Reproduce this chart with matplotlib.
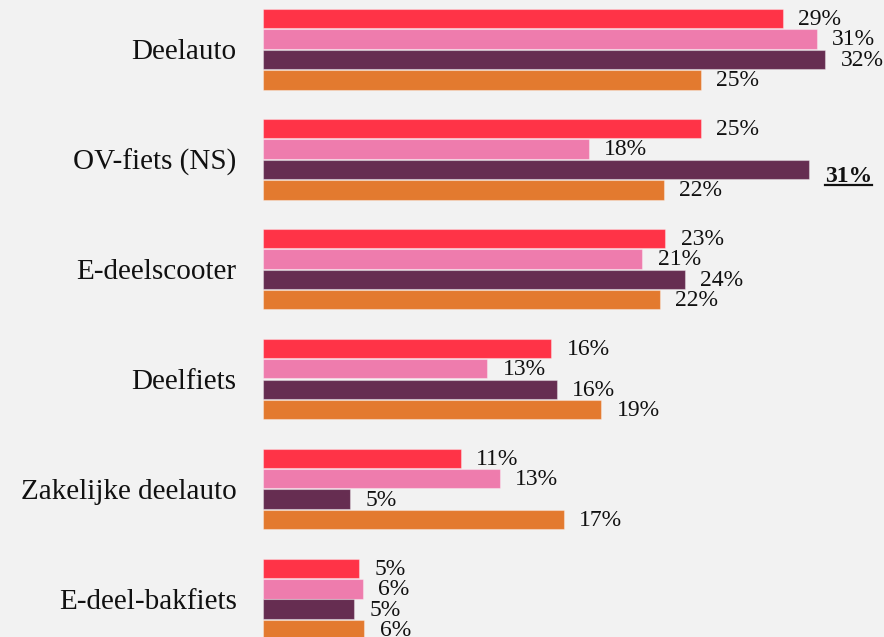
import matplotlib
matplotlib.use("Agg")
import matplotlib.pyplot as plt
from matplotlib.lines import Line2D
import numpy as np

categories = ["Deelauto", "OV-fiets (NS)", "E-deelscooter", "Deelfiets",
              "Zakelijke deelauto", "E-deel-bakfiets"]
series_1 = [29.2, 24.6, 22.6, 16.2, 11.1, 5.4]
series_2 = [31.1, 18.3, 21.3, 12.6, 13.3, 5.6]
series_3 = [31.6, 30.7, 23.7, 16.5, 4.9, 5.1]
series_4 = [24.6, 22.5, 22.3, 19.0, 16.9, 5.7]
highlight = (1, 2)  # (category index, series index) shown bold + underlined

series = [series_1, series_2, series_3, series_4]
colors = ["#FF3347", "#EE7CAD", "#662D51", "#E37A2F"]
bg = "#F2F2F2"

W, H = 884, 637
fig = plt.figure(figsize=(W / 100, H / 100), dpi=100, facecolor=bg)
x0_px = 263
px_per_pct = 17.8
ax = fig.add_axes([x0_px / W, 0, (W - x0_px) / W, 1])
ax.set_facecolor(bg)

group_px = 110.0
pitch = 20.5 / group_px
bar_h = 19.5 / group_px
ax.set_xlim(0, (W - x0_px) / px_per_pct)
ax.set_ylim(588 / group_px, -49 / group_px)

font = "Liberation Serif"
off = 15.5 / px_per_pct
y_idx = np.arange(len(categories))
for j, (vals, col) in enumerate(zip(series, colors)):
    ys = y_idx + (j - 1.5) * pitch
    ax.barh(ys, vals, height=bar_h, color=col, edgecolor=(1, 1, 1, 0.35),
            linewidth=0.8)
    for i, (y, v) in enumerate(zip(ys, vals)):
        label = f"{round(v)}%"
        if (i, j) == highlight:
            t = ax.text(v + off, y + 7 / group_px, label, fontsize=17,
                        family=font, fontweight="bold", va="center",
                        ha="left", color="#111111")
            t._underline = True
        else:
            ax.text(v + off, y + 1 / group_px, label, fontsize=17,
                    family=font, va="center", ha="left", color="#111111")

ax.set_yticks(y_idx)
ax.set_yticklabels(categories, fontsize=21, family=font, color="#111111")
ax.tick_params(axis="y", length=0, pad=19)
ax.set_xticks([])
for s in ax.spines.values():
    s.set_visible(False)

fig.canvas.draw()
renderer = fig.canvas.get_renderer()
for t in ax.texts:
    if getattr(t, "_underline", False):
        bb = t.get_window_extent(renderer)
        yline = bb.y0 + 1.5
        fig.add_artist(Line2D([bb.x0 / W, bb.x1 / W], [yline / H, yline / H],
                              transform=fig.transFigure, color="#111111",
                              linewidth=1.6))

fig.savefig("out.png", dpi=100, facecolor=bg)
